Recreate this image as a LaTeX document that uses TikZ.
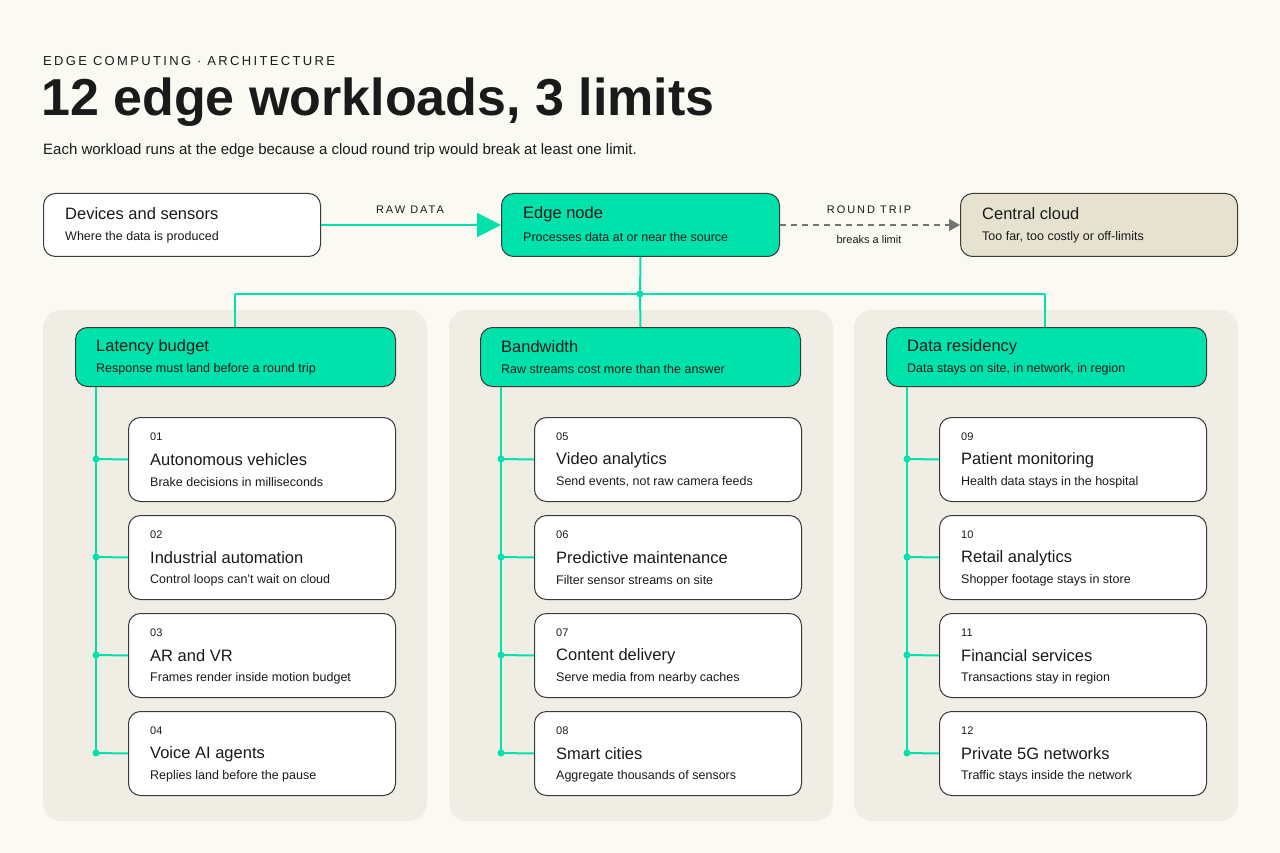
\documentclass[tikz,border=0pt]{standalone}
\usepackage{fontspec}
\setmainfont{Liberation Sans}
\newfontfamily\spaced{Liberation Sans}[LetterSpace=18]
\usetikzlibrary{arrows.meta}
\definecolor{bg}{HTML}{FBFAF2}
\definecolor{grn}{HTML}{00E2AC}
\definecolor{pnl}{HTML}{EFEDE4}
\definecolor{cld}{HTML}{E6E2CF}
\definecolor{ink}{HTML}{1A1A1A}
\definecolor{brd}{HTML}{3A3A3A}
\tikzset{
 box/.style={draw=brd,line width=1pt,rounded corners=12pt,anchor=north west,inner sep=0pt},
 ttl/.style={anchor=west,font=\fontsize{16.5}{18}\selectfont,text=ink,inner sep=0pt},
 sub/.style={anchor=west,font=\fontsize{12.5}{14}\selectfont,text=ink,inner sep=0pt},
 num/.style={anchor=west,font=\fontsize{11}{12}\selectfont,text=ink,inner sep=0pt},
 conn/.style={draw=grn,line width=2pt},
 dot/.style={circle,fill=grn,inner sep=0pt,minimum size=7pt},
 panel/.style={fill=pnl,rounded corners=18pt,draw=none},
}
\begin{document}
\begin{tikzpicture}[x=1pt,y=-1pt]
\fill[bg] (0,0) rectangle (1280,853);
\useasboundingbox (0,0) rectangle (1280,853);
\node[anchor=west,inner sep=0pt,font=\spaced\fontsize{13}{14}\selectfont,text=ink] (kick) at (43,61) {EDGE COMPUTING · ARCHITECTURE};
\node[anchor=west,inner sep=0pt,font=\bfseries\fontsize{52}{56}\selectfont,text=ink] (title) at (41,102) {12 edge workloads, 3 limits};
\node[anchor=west,inner sep=0pt,font=\fontsize{15}{17}\selectfont,text=ink] (stitle) at (43,151) {Each workload runs at the edge because a cloud round trip would break at least one limit.};
% panels
\foreach \x in {43,449,854}{\path[panel] (\x,310) rectangle ++(384,511);}
% top row
\node[box,fill=white,minimum width=277pt,minimum height=63pt] (dev) at (43,193) {};
\node[ttl] at (65,214) {Devices and sensors};
\node[sub] at (65,237) {Where the data is produced};
\node[box,fill=grn,minimum width=278pt,minimum height=63pt] (edge) at (501,193) {};
\node[ttl] at (523,214) {Edge node};
\node[sub] at (523,237) {Processes data at or near the source};
\node[box,fill=cld,minimum width=277pt,minimum height=63pt] (cloud) at (960,193) {};
\node[ttl] at (982,214) {Central cloud};
\node[sub] at (982,237) {Too far, too costly or off-limits};
\draw[conn,-{Triangle[length=24pt,width=24pt]}] (dev.east) -- (edge.west);
\node[font=\spaced\fontsize{11}{12}\selectfont,text=ink] (lraw) at (410,210) {RAW DATA};
\draw[draw=gray!90!black,line width=1.6pt,dash pattern=on 6pt off 5pt,-{Triangle[length=11pt,width=12pt]}] (edge.east) -- (cloud.west);
\node[font=\spaced\fontsize{11}{12}\selectfont,text=ink] (lrt) at (869,210) {ROUND TRIP};
\node[font=\fontsize{11}{12}\selectfont,text=ink] (lbr) at (869,240) {breaks a limit};
% bus
\coordinate (bus) at (640,294);
\coordinate (bl) at (235,294);
\coordinate (br) at (1045,294);
\draw[conn] (edge.south) -- (bus);
\draw[conn] (bl) -- (br);
% headers
\foreach \n/\x/\t/\s in {a/75/Latency budget/Response must land before a round trip,
 b/480/Bandwidth/Raw streams cost more than the answer,
 c/886/Data residency/{Data stays on site, in network, in region}}{
 \node[box,fill=grn,minimum width=320pt,minimum height=59pt] (h\n) at (\x,327) {};
 \node[ttl] at (\x+21,347) {\t};
 \node[sub] at (\x+21,369) {\s};
}
\draw[conn] (bl) -- (ha.north -| bl);
\draw[conn] (bus) -- (hb.north);
\draw[conn] (br) -- (hc.north -| br);
\node[dot] at (bus) {};
% cards
\foreach \n/\col/\cx/\sx/\y/\t/\s in {
01/a/128/96/417/Autonomous vehicles/Brake decisions in milliseconds,
02/a/128/96/515/Industrial automation/Control loops can't wait on cloud,
03/a/128/96/613/AR and VR/Frames render inside motion budget,
04/a/128/96/711/Voice AI agents/Replies land before the pause,
05/b/534/501/417/Video analytics/{Send events, not raw camera feeds},
06/b/534/501/515/Predictive maintenance/Filter sensor streams on site,
07/b/534/501/613/Content delivery/Serve media from nearby caches,
08/b/534/501/711/Smart cities/Aggregate thousands of sensors,
09/c/939/907/417/Patient monitoring/Health data stays in the hospital,
10/c/939/907/515/Retail analytics/Shopper footage stays in store,
11/c/939/907/613/Financial services/Transactions stay in region,
12/c/939/907/711/Private 5G networks/Traffic stays inside the network}{
 \node[box,fill=white,minimum width=267pt,minimum height=84pt] (c\n) at (\cx,\y) {};
 \node[num] at (\cx+22,\y+20) {\n};
 \node[ttl] at (\cx+22,\y+43) {\t};
 \node[sub] at (\cx+22,\y+65) {\s};
 \coordinate (s\n) at (\sx,\y+42);
 \draw[conn] (s\n) -- (c\n.west);
 \node[dot] at (s\n) {};
}
\draw[conn] (ha.south -| s01) -- (s04);
\draw[conn] (hb.south -| s05) -- (s08);
\draw[conn] (hc.south -| s09) -- (s12);
\end{tikzpicture}
\end{document}
